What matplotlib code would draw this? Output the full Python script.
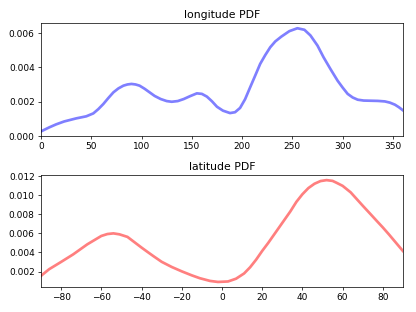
import matplotlib
matplotlib.use("Agg")
import matplotlib.pyplot as plt

lon = [0, 8, 15, 23, 35, 45, 52, 57, 62, 67, 72, 77, 82, 86, 90, 94, 98, 103, 108,
       113, 119, 125, 130, 136, 142, 148, 155, 160, 165, 170, 175, 181, 188, 193,
       198, 203, 208, 213, 218, 223, 228, 233, 239, 247, 255, 262, 268, 275, 281,
       288, 295, 300, 305, 310, 315, 321, 328, 335, 342, 347, 352, 356, 360]
lon_pdf = [0.00027, 0.00050, 0.00068, 0.00085, 0.00103, 0.00115, 0.00132, 0.00157,
           0.00187, 0.00222, 0.00255, 0.00278, 0.00294, 0.00301, 0.00304, 0.00301,
           0.00294, 0.00276, 0.00255, 0.00234, 0.00216, 0.00204, 0.00200, 0.00204,
           0.00216, 0.00232, 0.00249, 0.00246, 0.00230, 0.00203, 0.00171, 0.00148,
           0.00134, 0.00139, 0.00164, 0.00215, 0.00284, 0.00352, 0.00421, 0.00472,
           0.00518, 0.00552, 0.00580, 0.00612, 0.00629, 0.00620, 0.00587, 0.00528,
           0.00460, 0.00390, 0.00323, 0.00283, 0.00246, 0.00225, 0.00212, 0.00207,
           0.00206, 0.00205, 0.00202, 0.00195, 0.00183, 0.00168, 0.00150]

lat = [-90, -86, -80, -74, -67, -60, -57, -54, -51, -47, -44, -40, -37, -34, -30,
       -25, -20, -15, -11, -6, -2, 3, 7, 11, 14, 17, 20, 23, 26, 30, 34, 37, 40, 43,
       46, 49, 52, 55, 57, 60, 64, 67, 70, 74, 77, 80, 83, 86, 90]
lat_pdf = [0.00155, 0.00224, 0.00301, 0.00380, 0.00485, 0.00573, 0.00593, 0.00600,
           0.00590, 0.00563, 0.00515, 0.00451, 0.00405, 0.00360, 0.00302, 0.00248,
           0.00202, 0.00160, 0.00130, 0.00102, 0.00091, 0.00096, 0.00125, 0.00180,
           0.00245, 0.00325, 0.00416, 0.00500, 0.00590, 0.00710, 0.00830, 0.00930,
           0.01010, 0.01075, 0.01120, 0.01148, 0.01158, 0.01150, 0.01130, 0.01098,
           0.01030, 0.00960, 0.00890, 0.00799, 0.00730, 0.00662, 0.00590, 0.00515,
           0.00415]

fig = plt.figure(figsize=(6.4, 4.8), dpi=65)
ax1 = fig.add_axes([0.0986, 0.564, 0.870, 0.362])
ax2 = fig.add_axes([0.0986, 0.080, 0.870, 0.359])

ax1.plot(lon, lon_pdf, color='blue', alpha=0.5, lw=3)
ax1.set_xlim(0, 360)
ax1.set_ylim(bottom=0)
ax1.set_title('longitude PDF')

ax2.plot(lat, lat_pdf, color='red', alpha=0.5, lw=3)
ax2.set_xlim(-90, 90)
ax2.set_title('latitude PDF')

fig.savefig('out.png', dpi=65)
